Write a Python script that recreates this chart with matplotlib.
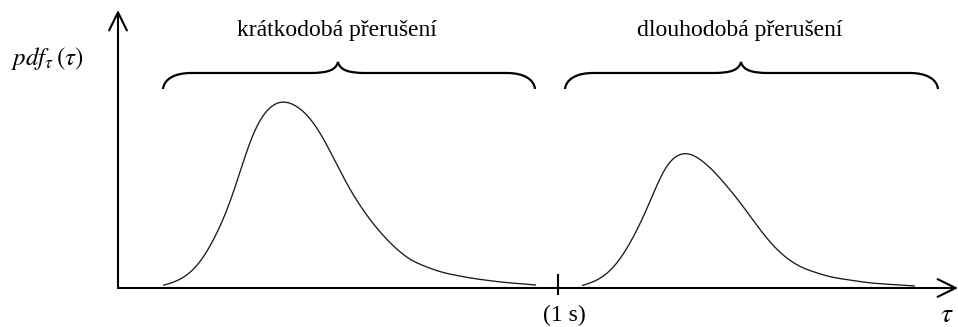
import numpy as np
import matplotlib
matplotlib.use("Agg")
import matplotlib.pyplot as plt
from matplotlib.path import Path
from matplotlib.patches import PathPatch

plt.rcParams["mathtext.fontset"] = "stix"
plt.rcParams["font.family"] = ["Liberation Serif", "DejaVu Serif"]

# Short interruptions: duration (tau) vs. probability density
short_tau = [45, 65, 82, 99, 112, 122, 132, 142, 152, 165, 182, 199, 215, 232,
             252, 272, 292, 322, 352, 382, 418]
short_pdf = [2.3, 10, 25, 55, 85, 115, 148, 168, 181, 187, 180, 161, 131, 98,
             68, 45, 28, 16, 10, 6, 3]

# Long interruptions
long_tau = [464, 485, 502, 519, 532, 542, 552, 570, 592, 612, 622, 642, 662,
            682, 712, 752, 797]
long_pdf = [2, 11, 28, 58, 85, 111, 128, 136, 121, 98, 86, 58, 35, 21, 11, 5, 2]

# Group labels with their brace spans (start, tip, end) on the tau axis
group_labels = ["krátkodobá přerušení", "dlouhodobá přerušení"]
brace_spans = [(45, 220, 417), (447, 623, 820)]

tick_pos = [440]
tick_labels = ["(1 s)"]

W, H, DPI = 958, 327, 100
X0, Y0 = 118, 288          # axis origin in pixels
fig = plt.figure(figsize=(W / DPI, H / DPI), dpi=DPI)
ax = fig.add_axes([X0 / W, (H - Y0) / H, (W - X0) / W, Y0 / H])
ax.set_xlim(0, W - X0)
ax.set_ylim(0, Y0)
ax.axis("off")


def smooth(xs, ys, step=0.5, bw=11.0):
    """Curve through the points, softened by a local quadratic fit."""
    gx = np.arange(xs[0], xs[-1] + step / 2, step)
    gy = np.interp(gx, xs, ys)
    out = np.empty_like(gy)
    for i, x in enumerate(gx):
        d = gx - x
        w = np.exp(-0.5 * (d / bw) ** 2)
        m = w > 1e-4
        A = np.column_stack([np.ones(m.sum()), d[m], d[m] ** 2])
        sw = np.sqrt(w[m])
        coef, *_ = np.linalg.lstsq(A * sw[:, None], gy[m] * sw, rcond=None)
        out[i] = coef[0]
    return gx, out


for xs, ys in [(short_tau, short_pdf), (long_tau, long_pdf)]:
    sx, sy = smooth(np.array(xs, float), np.array(ys, float))
    ax.plot(sx, sy, color="#1a1a1a", lw=0.95, solid_capstyle="butt")

# Axes with open arrowheads
axis_kw = dict(arrowstyle="->,head_length=0.65,head_width=0.32", lw=1.5,
               color="black", mutation_scale=20, shrinkA=0, shrinkB=0)
ax.annotate("", xy=(0, Y0 - 10), xytext=(0, 0), arrowprops=axis_kw,
            annotation_clip=False)
ax.annotate("", xy=(W - X0, 0), xytext=(0, 0), arrowprops=axis_kw,
            annotation_clip=False)

# Marked tick on tau axis
ax.vlines(tick_pos, -7, 14, color="black", lw=1.5, clip_on=False)
for tp, tl in zip(tick_pos, tick_labels):
    ax.text(tp + 6, -33, tl, ha="center", va="baseline", fontsize=17)


def brace(x0, xm, x1, y_end=199, y_flat=215, y_tip=226):
    r = 28
    dv = y_flat - y_end
    verts = [(x0, y_end),
             (x0 + 1, y_end + 0.6 * dv), (x0 + 0.4 * r, y_flat), (x0 + r, y_flat),
             (xm - r, y_flat),
             (xm - 10, y_flat), (xm - 2, y_flat + 3), (xm, y_tip),
             (xm + 2, y_flat + 3), (xm + 10, y_flat), (xm + r, y_flat),
             (x1 - r, y_flat),
             (x1 - 0.4 * r, y_flat), (x1 - 1, y_end + 0.6 * dv), (x1, y_end)]
    codes = ([Path.MOVETO] + [Path.CURVE4] * 3 + [Path.LINETO] + [Path.CURVE4] * 6
             + [Path.LINETO] + [Path.CURVE4] * 3)
    ax.add_patch(PathPatch(Path(verts, codes), fill=False, lw=1.6,
                           edgecolor="black", clip_on=False))


for (b0, bm, b1), label in zip(brace_spans, group_labels):
    brace(b0, bm, b1)
    ax.text(bm - 1, 252, label, ha="center", va="baseline", fontsize=17)

# Axis titles
ax.text(-107, 223, r"$pdf_{\tau}\,(\tau)$", ha="left", va="baseline", fontsize=18)
ax.text(829, -34, r"$\tau$", ha="center", va="baseline", fontsize=20)

fig.savefig("out.png", dpi=DPI)
